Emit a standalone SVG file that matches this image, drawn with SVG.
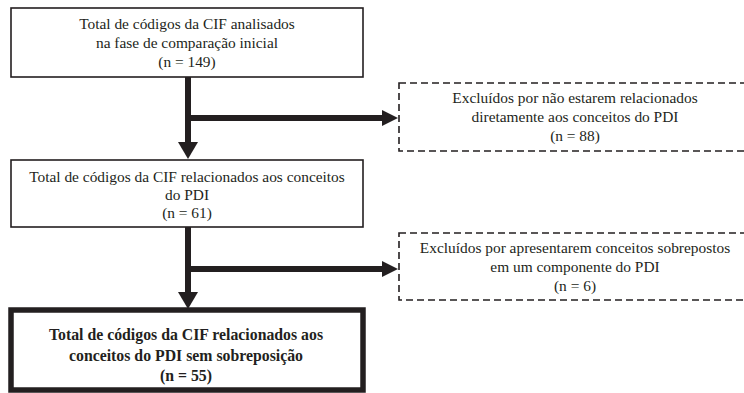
<svg xmlns="http://www.w3.org/2000/svg" width="744" height="393" viewBox="0 0 744 393">
  <style>
    .box { fill: #ffffff; stroke: #231f20; stroke-width: 1.6; }
    .thick { fill: #ffffff; stroke: #231f20; stroke-width: 5.5; }
    .dash { fill: #ffffff; stroke: #231f20; stroke-width: 1.6; stroke-dasharray: 7 4; }
    .t { font-family: "Liberation Serif", "Times New Roman", serif; font-size: 15.4px; fill: #231f20; text-anchor: middle; }
    .b { font-family: "Liberation Serif", "Times New Roman", serif; font-size: 15.8px; font-weight: bold; fill: #231f20; text-anchor: middle; }
    .ln { stroke: #231f20; stroke-width: 6; fill: none; }
    .hd { fill: #231f20; }
  </style>
  <rect width="744" height="393" fill="#ffffff"/>
  <g id="connectors">
    <line class="ln" x1="188" y1="77" x2="188" y2="143"/>
    <polygon class="hd" points="178,142 198,142 188,159"/>
    <line class="ln" x1="185" y1="118" x2="383" y2="118"/>
    <polygon class="hd" points="382,110 382,126 398,118"/>
    <line class="ln" x1="188" y1="227" x2="188" y2="293"/>
    <polygon class="hd" points="178,292 198,292 188,309"/>
    <line class="ln" x1="185" y1="269" x2="383" y2="269"/>
    <polygon class="hd" points="382,261 382,277 398,269"/>
  </g>
  <g id="n1">
    <rect class="box" x="11" y="8" width="352" height="69"/>
    <text class="t" x="187" y="29">Total de códigos da CIF analisados</text>
    <text class="t" x="187" y="48">na fase de comparação inicial</text>
    <text class="t" x="187" y="67">(n = 149)</text>
  </g>
  <g id="n2">
    <rect class="box" x="11" y="160" width="352" height="67"/>
    <text class="t" x="187" y="182">Total de códigos da CIF relacionados aos conceitos</text>
    <text class="t" x="187" y="200">do PDI</text>
    <text class="t" x="187" y="218">(n = 61)</text>
  </g>
  <g id="n3">
    <rect class="thick" x="11" y="310" width="352" height="80"/>
    <text class="b" x="186" y="340">Total de códigos da CIF relacionados aos</text>
    <text class="b" x="186" y="361">conceitos do PDI sem sobreposição</text>
    <text class="b" x="186" y="381">(n = 55)</text>
  </g>
  <g id="x1">
    <rect class="dash" x="399" y="83" width="353" height="68"/>
    <text class="t" x="575" y="103">Excluídos por não estarem relacionados</text>
    <text class="t" x="575" y="122">diretamente aos conceitos do PDI</text>
    <text class="t" x="575" y="141">(n = 88)</text>
  </g>
  <g id="x2">
    <rect class="dash" x="399" y="233" width="353" height="67"/>
    <text class="t" x="575" y="253">Excluídos por apresentarem conceitos sobrepostos</text>
    <text class="t" x="575" y="272">em um componente do PDI</text>
    <text class="t" x="575" y="291">(n = 6)</text>
  </g>
</svg>
